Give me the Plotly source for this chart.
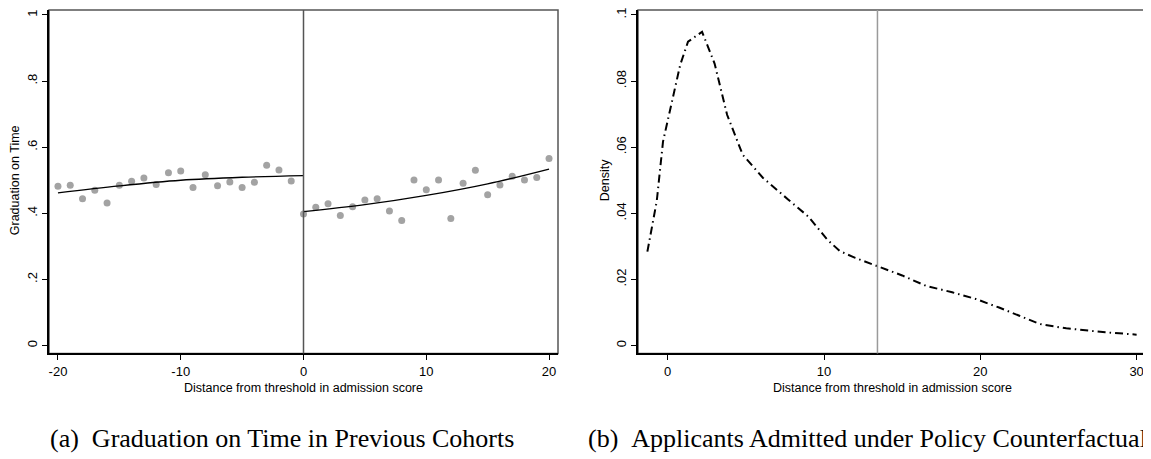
import plotly.graph_objects as go

# The page body has an 8px margin, so the figure is shifted; compensate.
OFF = 8
W, H = 1151 - OFF, 459 - OFF

# ---------- Panel (a) data ----------
left_x = list(range(-20, 0))
left_y = [0.482, 0.485, 0.444, 0.470, 0.431, 0.485, 0.497, 0.507, 0.487, 0.523,
          0.528, 0.478, 0.517, 0.483, 0.495, 0.478, 0.494, 0.545, 0.531, 0.498]
right_x = list(range(0, 21))
right_y = [0.398, 0.418, 0.429, 0.393, 0.420, 0.440, 0.444, 0.407, 0.378, 0.501,
           0.471, 0.501, 0.384, 0.491, 0.530, 0.456, 0.486, 0.512, 0.501, 0.508, 0.566]
fitL_x = [-20, -15, -10, -5, 0]
fitL_y = [0.462, 0.483, 0.500, 0.509, 0.514]
fitR_x = [0, 5, 10, 15, 20]
fitR_y = [0.405, 0.426, 0.454, 0.489, 0.534]

# ---------- Panel (b) data ----------
dens_x = [-1.3, -0.7, -0.3, 0.25, 0.8, 1.3, 2.2, 3.0, 3.8, 4.8, 6.1, 7.7, 9.0, 10.2,
          11.0, 12.0, 13.4, 15.0, 16.5, 18.2, 19.7, 21.2, 22.5, 23.8, 25.5, 28.0, 30.0]
dens_y = [0.0284, 0.0437, 0.0617, 0.0738, 0.0849, 0.0919, 0.0949, 0.0853, 0.0698, 0.0577,
          0.0507, 0.0442, 0.0390, 0.0321, 0.0286, 0.0265, 0.0241, 0.0212, 0.0181, 0.0161,
          0.0141, 0.0115, 0.0090, 0.0065, 0.0052, 0.0040, 0.0033]
threshold_b = 13.42

left_xticks = [-20, -10, 0, 10, 20]
left_xlabels = ["-20", "-10", "0", "10", "20"]
left_yticks = [0, 0.2, 0.4, 0.6, 0.8, 1.0]
left_ylabels = ["0", ".2", ".4", ".6", ".8", "1"]
right_xticks = [0, 10, 20, 30]
right_xlabels = ["0", "10", "20", "30"]
right_yticks = [0, 0.02, 0.04, 0.06, 0.08, 0.1]
right_ylabels = ["0", ".02", ".04", ".06", ".08", ".1"]

def px(x):
    return (x - OFF) / W

def py(y):
    return min(1.0, max(0.0, 1 - (y - OFF) / H))

fig = go.Figure()

fig.add_trace(go.Scatter(x=left_x, y=left_y, mode="markers",
                         marker=dict(color="#a3a3a3", size=7), xaxis="x", yaxis="y"))
fig.add_trace(go.Scatter(x=right_x, y=right_y, mode="markers",
                         marker=dict(color="#a3a3a3", size=7), xaxis="x", yaxis="y"))
fig.add_trace(go.Scatter(x=fitL_x, y=fitL_y, mode="lines", line_shape="spline",
                         line=dict(color="black", width=1.3), xaxis="x", yaxis="y"))
fig.add_trace(go.Scatter(x=fitR_x, y=fitR_y, mode="lines", line_shape="spline",
                         line=dict(color="black", width=1.3), xaxis="x", yaxis="y"))
fig.add_trace(go.Scatter(x=dens_x, y=dens_y, mode="lines",
                         line=dict(color="black", width=2, dash="8px,4px,1.5px,4px"),
                         xaxis="x2", yaxis="y2"))

tickfont = dict(family="Liberation Sans, Arial, sans-serif", size=13, color="black")
common_ax = dict(showgrid=False, zeroline=False, ticks="outside", ticklen=5,
                 tickwidth=1.3, tickcolor="black", showline=True, linecolor="black",
                 linewidth=2, tickfont=tickfont, ticklabeloverflow="allow")

# plot area: bottom at screen y=353, top clamped to screen y=8 (value 1 at y=13)
ydom = [py(353), py(8)]
fig.update_layout(
    width=W, height=H, margin=dict(l=0, r=0, t=0, b=0),
    paper_bgcolor="white", plot_bgcolor="white", showlegend=False,
    xaxis=dict(domain=[px(49), px(558)], range=[-20.73, 20.73], tickvals=left_xticks,
               ticktext=left_xlabels, anchor="y", **common_ax),
    yaxis=dict(domain=ydom, range=[-0.024, 1.015], tickvals=left_yticks,
               ticktext=left_ylabels, tickangle=-90, anchor="x", **common_ax),
    xaxis2=dict(domain=[px(638), px(1146)], range=[-1.9, 30.6], tickvals=right_xticks,
                ticktext=right_xlabels, anchor="y2", **common_ax),
    yaxis2=dict(domain=ydom, range=[-0.0024, 0.1015], tickvals=right_yticks,
                ticktext=right_ylabels, tickangle=-90, anchor="x2", **common_ax),
)

# frames
for xr, yr in (("x", "y"), ("x2", "y2")):
    fig.add_shape(type="rect", xref=f"{xr} domain", yref=f"{yr} domain",
                  x0=0, x1=1, y0=0, y1=1, line=dict(color="#555555", width=1.5), layer="below")

fig.add_shape(type="line", xref="x", yref="y domain", x0=0, x1=0, y0=0, y1=1,
              line=dict(color="#555555", width=1.5))
fig.add_shape(type="line", xref="x2", yref="y2 domain", x0=threshold_b, x1=threshold_b,
              y0=0, y1=1, line=dict(color="#9a9a9a", width=1.5))

labfont = dict(family="Liberation Sans, Arial, sans-serif", size=12.5, color="black")
capfont = dict(family="Liberation Serif, Times New Roman, serif", size=26, color="black")
ann = [
    dict(text="Distance from threshold in admission score", x=px(303), y=py(388),
         font=labfont),
    dict(text="Distance from threshold in admission score", x=px(892), y=py(388),
         font=labfont),
    dict(text="Graduation on Time", x=px(15), y=py(179), textangle=-90, font=labfont),
    dict(text="Density", x=px(605), y=py(179), textangle=-90, font=labfont),
    dict(text="(a)\u2002Graduation on Time in Previous Cohorts", x=px(282), y=py(438),
         font=capfont),
    dict(text="(b)\u2002Applicants Admitted under Policy Counterfactual", x=px(586), y=py(438),
         xanchor="left", font=capfont),
]
for a in ann:
    a.setdefault("xanchor", "center")
    fig.add_annotation(xref="paper", yref="paper", yanchor="middle", showarrow=False, **a)

fig.write_html("out.html")
